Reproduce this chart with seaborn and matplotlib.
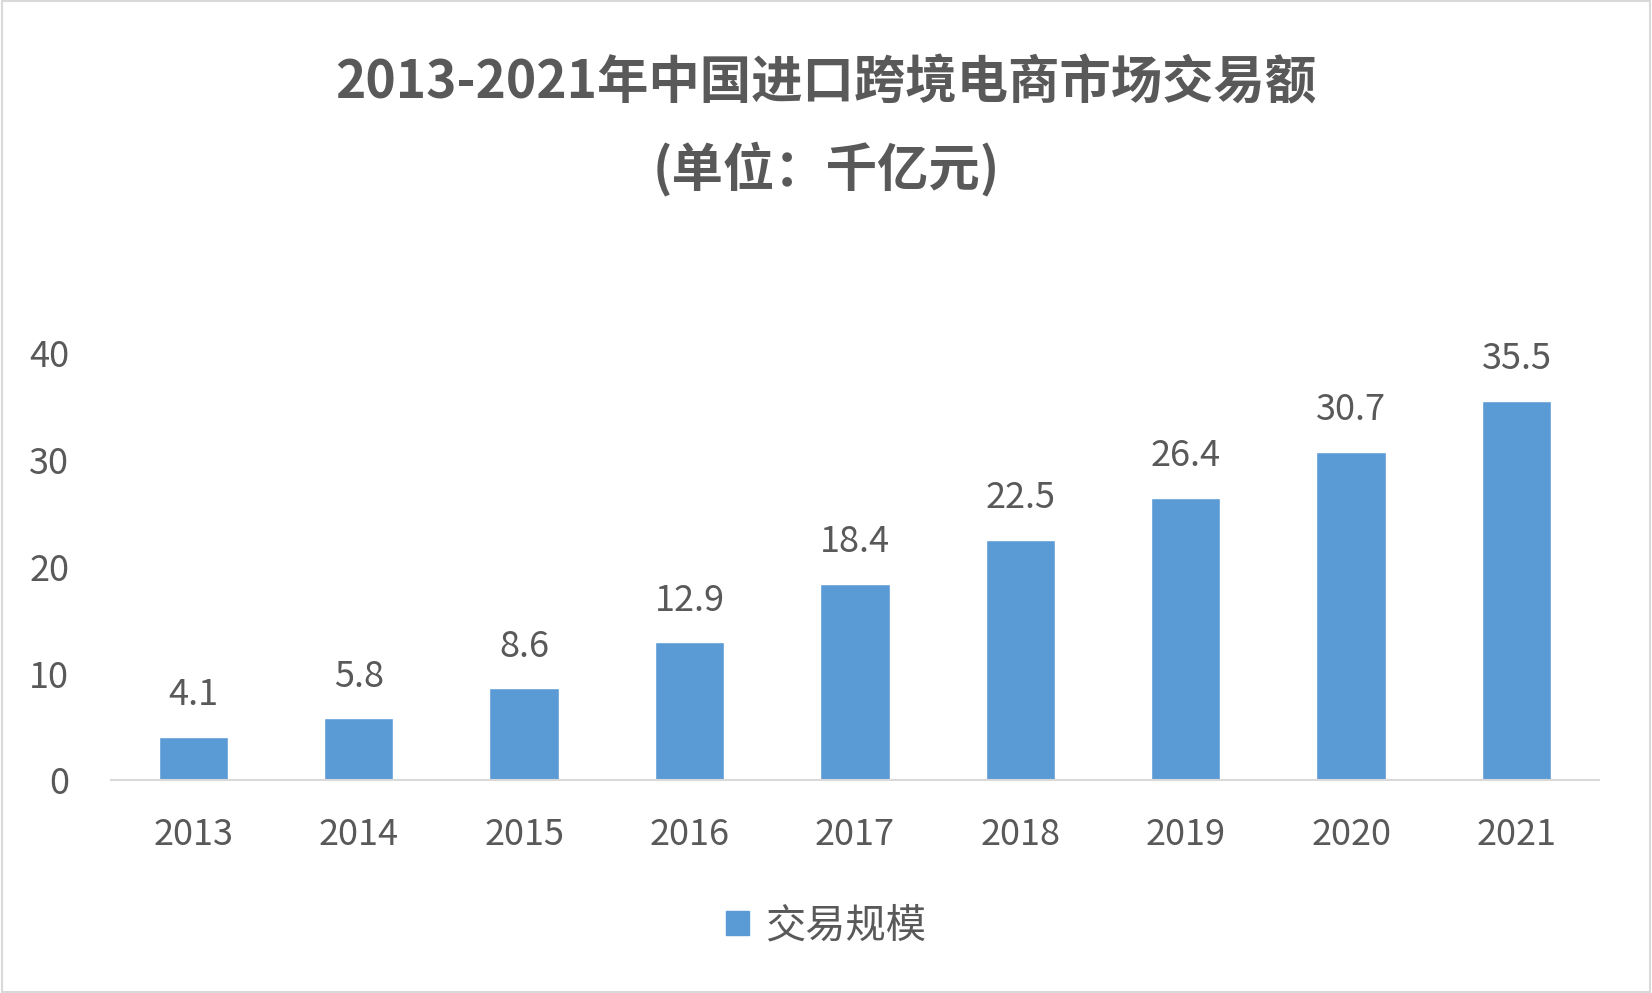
import matplotlib
matplotlib.use("Agg")
import matplotlib.pyplot as plt
import seaborn as sns
import pandas as pd
from matplotlib.patches import Rectangle

years = ["2013", "2014", "2015", "2016", "2017", "2018", "2019", "2020", "2021"]
values = [4.1, 5.8, 8.6, 12.9, 18.4, 22.5, 26.4, 30.7, 35.5]
series_name = "交易规模"
title_line1 = "2013-2021年中国进口跨境电商市场交易额"
title_line2 = "(单位：千亿元)"

sns.set_theme(style="white")
plt.rcParams['font.family'] = ['Noto Sans CJK SC', 'DejaVu Sans']

text_color = "#595959"
bar_color = "#5B9BD5"

df = pd.DataFrame({"year": years, "value": values})

fig = plt.figure(figsize=(16.52, 9.93), dpi=100)
ax = fig.add_axes([0.067, 0.214, 0.901, 0.431])

sns.barplot(data=df, x="year", y="value", color=bar_color, width=0.42,
            saturation=1, ax=ax)

ax.set_ylim(0, 40)
ax.set_yticks([0, 10, 20, 30, 40])
ax.set_xlabel("")
ax.set_ylabel("")
for s in ["top", "right", "left"]:
    ax.spines[s].set_visible(False)
ax.spines["bottom"].set_color("#D9D9D9")
ax.spines["bottom"].set_linewidth(1.5)
ax.tick_params(axis="both", length=0, labelsize=26, colors=text_color)
ax.tick_params(axis="x", pad=26)
ax.tick_params(axis="y", pad=30)

for patch, v in zip(ax.patches, values):
    ax.annotate(f"{v}", (patch.get_x() + patch.get_width() / 2, patch.get_height()),
                xytext=(0, 30), textcoords="offset points", ha="center", va="center",
                fontsize=26, color=text_color, annotation_clip=False)

fig.text(0.5, 0.917, title_line1, ha="center", va="center", fontsize=37,
         fontweight="bold", color=text_color)
fig.text(0.5, 0.830, title_line2, ha="center", va="center", fontsize=37,
         fontweight="bold", color=text_color)

handle = Rectangle((0, 0), 1, 1, color=bar_color)
fig.legend([handle], [series_name], loc="center", bbox_to_anchor=(0.5, 0.068),
           frameon=False, fontsize=29, handlelength=0.55, handleheight=0.55,
           handletextpad=0.4, labelcolor=text_color)

fig.patches.append(Rectangle((0.001, 0.001), 0.998, 0.998, transform=fig.transFigure,
                             fill=False, edgecolor="#D9D9D9", linewidth=1.5))

fig.savefig("out.png", dpi=100)
